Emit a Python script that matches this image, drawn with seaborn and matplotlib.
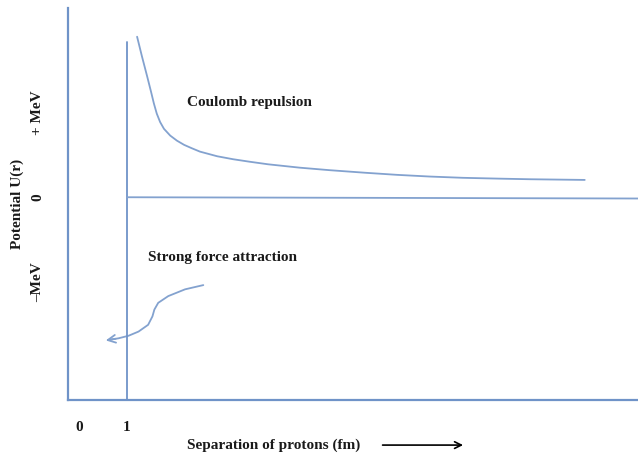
import numpy as np
import pandas as pd
import matplotlib
matplotlib.use("Agg")
import matplotlib.pyplot as plt
import seaborn as sns

# Potential energy of two protons vs separation (sketch values)
separation_fm = [1.21, 1.31, 1.42, 1.5, 1.56, 1.62, 1.69, 1.77, 1.9, 2.04, 2.19,
                 2.35, 2.52, 2.88, 3.21, 3.56, 3.94, 4.6, 5.23, 5.96, 6.63,
                 7.31, 8.0, 8.77, 9.4, 10.54]
coulomb_mev = [1.9, 1.67, 1.43, 1.25, 1.11, 0.99, 0.89, 0.81, 0.73, 0.67, 0.62,
               0.58, 0.54, 0.485, 0.45, 0.42, 0.39, 0.35, 0.32, 0.29, 0.265,
               0.245, 0.23, 0.22, 0.213, 0.205]

# curved arrow for the strong force
arrow_x = [2.59, 2.21, 1.86, 1.65, 1.57, 1.53, 1.44, 1.24, 1.03, 0.82, 0.6]
arrow_y = [-1.04, -1.09, -1.17, -1.25, -1.33, -1.41, -1.51, -1.59, -1.64, -1.67, -1.69]

x_ticks = [0, 1]
x_tick_labels = ["0", "1"]
y_ticks = [-1, 0, 1]
y_tick_labels = ["\u2013MeV", "0", "+ MeV"]

curve_color = "#83a2cf"
axis_color = "#6f93c8"

sns.set_theme(style="white")
plt.rcParams["font.family"] = ["Liberation Serif", "DejaVu Serif"]

fig = plt.figure(figsize=(6.38, 4.55), dpi=100)
ax = fig.add_axes([68 / 638, 55 / 455, 570 / 638, 392 / 455])

df = pd.DataFrame({"r": separation_fm, "U": coulomb_mev})
sns.lineplot(data=df, x="r", y="U", ax=ax, color=curve_color, lw=1.3, sort=False)

arrow_df = pd.DataFrame({"x": arrow_x, "y": arrow_y})
sns.lineplot(data=arrow_df, x="x", y="y", ax=ax, color=curve_color, lw=1.3, sort=False)
ax.annotate("", xy=(arrow_x[-1] - 0.1, arrow_y[-1] - 0.01), xytext=(arrow_x[-2], arrow_y[-2]),
            arrowprops=dict(arrowstyle="->", color=curve_color, lw=1.3, mutation_scale=14))

# r = 1 fm wall and zero line
ylim = (-2.4, 2.24)
xlim = (-0.23, 11.65)
ax.plot([1, 1], [ylim[0], 1.84], color=axis_color, lw=1.3)
ax.plot([1, xlim[1]], [0, -0.015], color=curve_color, lw=1.3)

text_kw = dict(fontsize=11, weight="bold", color="#1a1a1a")
ax.text(3.56, 1.125, "Coulomb repulsion", ha="center", va="center", **text_kw)
ax.text(2.98, -0.71, "Strong force attraction", ha="center", va="center", **text_kw)

ax.set_xlim(*xlim)
ax.set_ylim(*ylim)
for side in ["top", "right"]:
    ax.spines[side].set_visible(False)
for side in ["left", "bottom"]:
    ax.spines[side].set_color(axis_color)
    ax.spines[side].set_linewidth(1.6)

ax.set_xticks(x_ticks)
ax.set_xticklabels(x_tick_labels, **text_kw)
ax.set_yticks(y_ticks)
ax.set_yticklabels(y_tick_labels, rotation=90, va="center", **text_kw)
ax.tick_params(axis="x", length=0, pad=15)
ax.tick_params(axis="y", length=0, pad=17)

ax.set_ylabel("Potential U(r)", labelpad=5, **text_kw)
ax.set_xlabel("Separation of protons (fm)", **text_kw)
ax.xaxis.set_label_coords(0.361, -0.115)
ax.xaxis.label.set_verticalalignment("center")
ax.annotate("", xy=(0.698, -0.115), xytext=(0.547, -0.115), xycoords="axes fraction",
            arrowprops=dict(arrowstyle="->", color="black", lw=1.2), annotation_clip=False)

fig.savefig("out.png", dpi=100)
